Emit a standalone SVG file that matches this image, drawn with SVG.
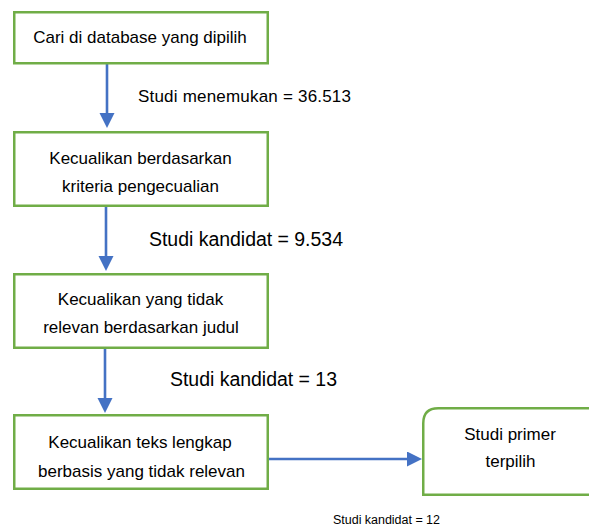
<svg xmlns="http://www.w3.org/2000/svg" width="589" height="528" viewBox="0 0 589 528">
<style>
.box{fill:#ffffff;stroke:#70AD47;stroke-width:2.5}
.txt{font-family:"Liberation Sans",Arial,sans-serif;font-size:17px;fill:#000000;text-anchor:middle}
.lbl{font-family:"Liberation Sans",Arial,sans-serif;fill:#000000}
.conn{fill:none;stroke:#4472C4;stroke-width:2.6}
</style>
<defs>
<marker id="arr" markerUnits="userSpaceOnUse" markerWidth="16" markerHeight="16" refX="10" refY="7.5" orient="auto">
<path d="M0,0 L15,7.5 L0,15 z" fill="#4472C4"/>
</marker>
</defs>
<rect x="0" y="0" width="589" height="528" fill="#ffffff"/>
<g id="connectors">
<line class="conn" x1="107" y1="64" x2="107" y2="123" marker-end="url(#arr)"/>
<line class="conn" x1="106" y1="207" x2="106" y2="266" marker-end="url(#arr)"/>
<line class="conn" x1="105" y1="349" x2="105" y2="408" marker-end="url(#arr)"/>
<line class="conn" x1="269" y1="459" x2="417" y2="459" marker-end="url(#arr)"/>
</g>
<g id="node1">
<rect class="box" x="14.25" y="12.25" width="253.5" height="51"/>
<text class="txt" x="140" y="43">Cari di database yang dipilih</text>
</g>
<g id="node2">
<rect class="box" x="14.25" y="132.25" width="253.5" height="73.5"/>
<text class="txt" x="140.5" y="164">Kecualikan berdasarkan</text>
<text class="txt" x="140.5" y="192">kriteria pengecualian</text>
</g>
<g id="node3">
<rect class="box" x="14.25" y="274.25" width="253.5" height="73.5"/>
<text class="txt" x="140.5" y="305">Kecualikan yang tidak</text>
<text class="txt" x="141" y="333">relevan berdasarkan judul</text>
</g>
<g id="node4">
<rect class="box" x="14.25" y="415.25" width="253.5" height="73.5"/>
<text class="txt" x="140" y="448">Kecualikan teks lengkap</text>
<text class="txt" x="141.5" y="477">berbasis yang tidak relevan</text>
</g>
<g id="node5">
<path class="box" d="M600,408.25 L438.25,408.25 Q423.25,408.25 423.25,423.25 L423.25,494.75 L600,494.75"/>
<text class="txt" x="510" y="440">Studi primer</text>
<text class="txt" x="510.5" y="467">terpilih</text>
</g>
<g id="labels">
<text class="lbl" x="138" y="102" font-size="17" textLength="213">Studi menemukan = 36.513</text>
<text class="lbl" x="149" y="245.5" font-size="19.5" textLength="194">Studi kandidat = 9.534</text>
<text class="lbl" x="170" y="386" font-size="19.5" textLength="167">Studi kandidat = 13</text>
<text class="lbl" x="333" y="524" font-size="12.5" textLength="107">Studi kandidat = 12</text>
</g>
</svg>
